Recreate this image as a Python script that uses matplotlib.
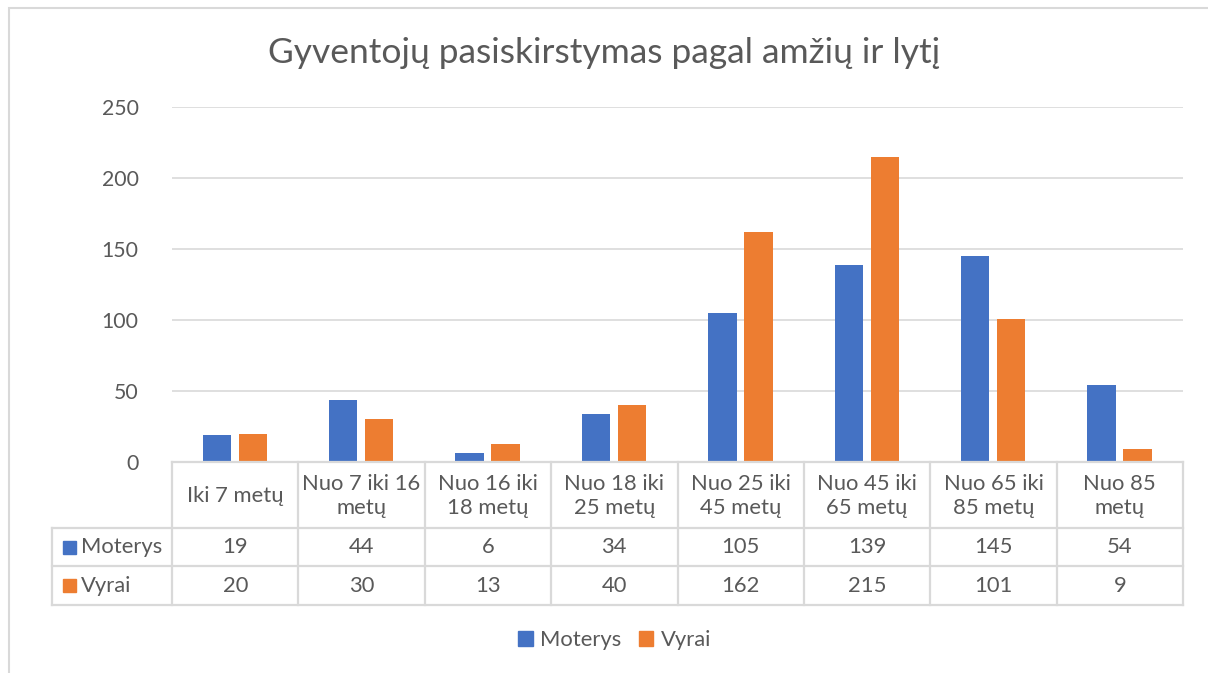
import matplotlib
matplotlib.use("Agg")
import matplotlib.pyplot as plt
from matplotlib.patches import Rectangle

categories = ["Iki 7 metų", "Nuo 7 iki 16\nmetų", "Nuo 16 iki\n18 metų", "Nuo 18 iki\n25 metų",
              "Nuo 25 iki\n45 metų", "Nuo 45 iki\n65 metų", "Nuo 65 iki\n85 metų", "Nuo 85\nmetų"]
moterys = [19, 44, 6, 34, 105, 139, 145, 54]
vyrai = [20, 30, 13, 40, 162, 215, 101, 9]
series_names = ["Moterys", "Vyrai"]
colors = ["#4472C4", "#ED7D31"]
yticks = [0, 50, 100, 150, 200, 250]

W, H = 1208, 673
TXT = "#595959"
GRID = "#d9d9d9"
FS = 15.8
plt.rcParams['font.family'] = ['Lato', 'DejaVu Sans']

fig = plt.figure(figsize=(W / 100, H / 100), dpi=100)

# chart area border (runs off right/bottom edge)
fig.patches.append(Rectangle((9 / W, -0.1), 1.2, 1 - 8 / H + 0.1, transform=fig.transFigure,
                             fill=False, edgecolor=GRID, lw=1.5))

left, right, top, zero = 172, 1183, 107, 462
ax = fig.add_axes([left / W, 1 - zero / H, (right - left) / W, (zero - top) / H])
n = len(categories)
x = list(range(n))
bw = 0.225
ax.bar([i - 0.145 for i in x], moterys, bw, color=colors[0], zorder=3)
ax.bar([i + 0.14 for i in x], vyrai, bw, color=colors[1], zorder=3)
ax.set_xlim(-0.5, n - 0.5)
ax.set_ylim(0, 250)
ax.set_yticks(yticks)
ax.set_xticks([])
ax.yaxis.grid(True, color=GRID, lw=1.2)
ax.set_axisbelow(True)
for s in ax.spines.values():
    s.set_visible(False)
ax.tick_params(axis='y', length=0, pad=24, labelsize=FS - 0.5, labelcolor=TXT)

fig.text(0.5, 1 - 53 / H, "Gyventojų pasiskirstymas pagal amžių ir lytį", ha='center', va='center',
         fontsize=25.5, color=TXT)

# data table
tl, hb, r1, r2 = 52, 528, 566, 605
tax = fig.add_axes([tl / W, 1 - r2 / H, (right - tl) / W, (r2 - zero) / H])
tax.set_xlim(tl, right)
tax.set_ylim(r2, zero)
tax.axis('off')
colw = (right - left) / n
lk = dict(color=GRID, lw=1.6, clip_on=False, solid_capstyle='projecting')
tax.plot([left, right], [zero, zero], **lk)
tax.plot([tl, right], [hb, hb], **lk)
tax.plot([tl, right], [r1, r1], **lk)
tax.plot([tl, right], [r2, r2], **lk)
tax.plot([tl, tl], [hb, r2], **lk)
for i in range(n + 1):
    xx = left + i * colw
    tax.plot([xx, xx], [zero, r2], **lk)
for i, cat in enumerate(categories):
    cx = left + (i + 0.5) * colw
    tax.text(cx, (zero + hb) / 2 + 1, cat, ha='center', va='center', fontsize=FS, color=TXT,
             linespacing=1.3)
    tax.text(cx, (hb + r1) / 2, str(moterys[i]), ha='center', va='center', fontsize=FS, color=TXT)
    tax.text(cx, (r1 + r2) / 2, str(vyrai[i]), ha='center', va='center', fontsize=FS, color=TXT)
for name, col, yy in zip(series_names, colors, [(hb + r1) / 2, (r1 + r2) / 2]):
    tax.add_patch(Rectangle((63, yy - 6.5), 13, 13, color=col, clip_on=False))
    tax.text(81, yy, name, ha='left', va='center', fontsize=FS, color=TXT)

# legend
handles = [Rectangle((0, 0), 1, 1, color=c) for c in colors]
fig.legend(handles, series_names, loc='center', bbox_to_anchor=(615 / W, 1 - 640 / H), ncol=2,
           frameon=False, fontsize=FS, labelcolor=TXT, handlelength=0.65, handleheight=0.65,
           handletextpad=0.35, columnspacing=0.8)

fig.savefig("out.png", dpi=100)
